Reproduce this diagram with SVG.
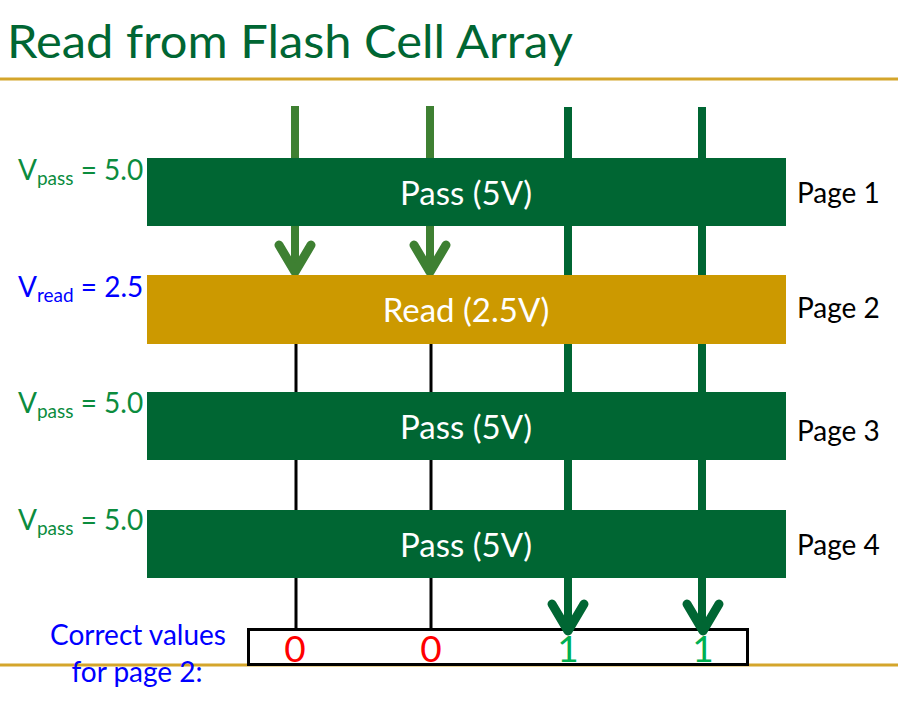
<svg xmlns="http://www.w3.org/2000/svg" width="911" height="703" viewBox="0 0 911 703">
<style>
text{font-family:Lato,"Open Sans","Liberation Sans",sans-serif}
.bar{fill:#006633}
.gold{fill:#CC9900}
.bl{fill:#fff;font-size:33px;text-anchor:middle}
.pg{fill:#000;font-size:28px}
.vp{fill:#0B8C3E;font-size:28px}
.vr{fill:#0000FF;font-size:28px}
.sub{font-size:19px}
.rule{stroke:#D4A52B;stroke-width:3}
.lg{stroke:#3E8032;stroke-width:8;fill:none}
.dg{stroke:#006633;stroke-width:8;fill:none}
.bk{stroke:#000;stroke-width:3;fill:none}
.ah{stroke-width:9;stroke-linecap:round;stroke-linejoin:round;fill:none}
.dig{font-size:37px;text-anchor:middle}
</style>
<rect width="911" height="703" fill="#fff"/>
<g id="title">
<text x="7" y="58" fill="#006633" font-size="46" textLength="566" lengthAdjust="spacingAndGlyphs">Read from Flash Cell Array</text>
<line class="rule" x1="0" y1="79" x2="898" y2="79"/>
<line class="rule" x1="0" y1="665" x2="898" y2="665"/>
</g>
<g id="connectors">
<line class="lg" x1="295" y1="106" x2="295" y2="270"/>
<polyline class="lg ah" points="279,245 295,272 311,245"/>
<line class="lg" x1="430" y1="106" x2="430" y2="270"/>
<polyline class="lg ah" points="414,245 430,272 446,245"/>
<line class="dg" x1="568" y1="107" x2="568" y2="628"/>
<line class="dg" x1="702" y1="107" x2="702" y2="628"/>
<line class="bk" x1="296" y1="344" x2="296" y2="629"/>
<line class="bk" x1="431" y1="344" x2="431" y2="629"/>
</g>
<g id="page1">
<rect class="bar" x="147" y="158" width="639" height="68"/>
<text class="bl" x="466" y="205">Pass (5V)</text>
<text class="pg" x="797" y="203">Page 1</text>
<text class="vp" x="18" y="180">V<tspan class="sub" dy="5">pass</tspan><tspan dy="-5"> = 5.0</tspan></text>
</g>
<g id="page2">
<rect class="gold" x="147" y="275" width="639" height="69"/>
<text class="bl" x="466" y="322">Read (2.5V)</text>
<text class="pg" x="797" y="318">Page 2</text>
<text class="vr" x="18" y="297">V<tspan class="sub" dy="5">read</tspan><tspan dy="-5"> = 2.5</tspan></text>
</g>
<g id="page3">
<rect class="bar" x="147" y="392" width="639" height="68"/>
<text class="bl" x="466" y="439">Pass (5V)</text>
<text class="pg" x="797" y="441">Page 3</text>
<text class="vp" x="18" y="413">V<tspan class="sub" dy="5">pass</tspan><tspan dy="-5"> = 5.0</tspan></text>
</g>
<g id="page4">
<rect class="bar" x="147" y="510" width="639" height="68"/>
<text class="bl" x="466" y="557">Pass (5V)</text>
<text class="pg" x="797" y="555">Page 4</text>
<text class="vp" x="18" y="530">V<tspan class="sub" dy="5">pass</tspan><tspan dy="-5"> = 5.0</tspan></text>
</g>
<g id="result">
<rect x="248.5" y="629.5" width="499" height="35" fill="#fff" stroke="#000" stroke-width="3"/>
<polyline class="dg ah" points="552,604 568,631 584,604"/>
<polyline class="dg ah" points="687,604 703,631 719,604"/>
<text class="dig" x="295" y="662" fill="#FF0000">0</text>
<text class="dig" x="431" y="662" fill="#FF0000">0</text>
<text class="dig" x="568" y="662" fill="#00B050">1</text>
<text class="dig" x="703" y="662" fill="#00B050">1</text>
<text fill="#0000FF" font-size="28" text-anchor="middle"><tspan x="138" y="645">Correct values</tspan><tspan x="137" y="682">for page 2:</tspan></text>
</g>
</svg>
